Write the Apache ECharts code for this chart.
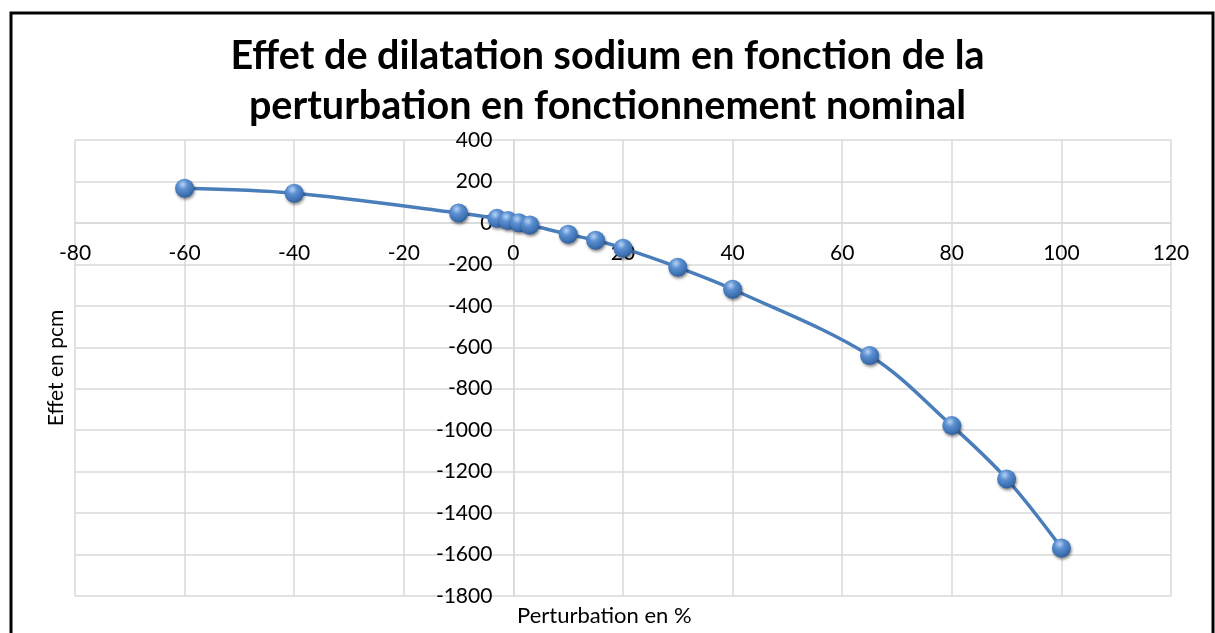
<!DOCTYPE html>
<html>
<head>
<meta charset="utf-8">
<script src="https://cdn.jsdelivr.net/npm/echarts@6/dist/echarts.min.js"></script>
<style>
html,body{margin:0;padding:0;background:#fff;}
#chart{width:1215px;height:633px;}
</style>
</head>
<body>
<div id="chart"></div>
<script>
// Data
var titleText = "Effet de dilatation sodium en fonction de la\nperturbation en fonctionnement nominal";
var xAxisName = "Perturbation en %";
var yAxisName = "Effet en pcm";
var perturbation = [-60, -40, -10, -3, -1, 1, 3, 10, 15, 20, 30, 40, 65, 80, 90, 100];
var effet = [167, 143, 48, 22, 12, 1, -10, -55, -84, -122, -214, -320, -640, -978, -1235, -1568];
var xRange = [-80, 120, 20];
var yRange = [-1800, 400, 200];

var points = perturbation.map(function (x, i) { return [x, effet[i]]; });
var font = "Lato, 'Liberation Sans', sans-serif";

var W = 1215, H = 633;
var gridBox = {left: 75, right: 44, top: 140, bottom: 37};
var plotW = W - gridBox.left - gridBox.right;
var plotH = H - gridBox.top - gridBox.bottom;
// axes cross at zero, as in the original
var xAxisOffset = -plotH * (0 - yRange[0]) / (yRange[1] - yRange[0]);
var yAxisOffset = -plotW * (0 - xRange[0]) / (xRange[1] - xRange[0]);

var chart = echarts.init(document.getElementById('chart'), null, {renderer: 'canvas'});
chart.setOption({
  animation: false,
  backgroundColor: '#ffffff',
  title: {
    text: titleText,
    left: 'center',
    top: 26,
    textStyle: {fontFamily: font, fontWeight: 'bold', fontSize: 39.5, lineHeight: 50, color: '#000'}
  },
  grid: {left: gridBox.left, right: gridBox.right, top: gridBox.top, bottom: gridBox.bottom, containLabel: false},
  xAxis: {
    type: 'value', min: xRange[0], max: xRange[1], interval: xRange[2],
    position: 'bottom', offset: xAxisOffset,
    axisLine: {show: true, onZero: false, lineStyle: {color: '#d9d9d9', width: 1.5}},
    axisTick: {show: false},
    axisLabel: {color: '#000', fontFamily: font, fontSize: 21, margin: 20, showMinLabel: true, showMaxLabel: true,
      formatter: function (v) { return String(v); }},
    splitLine: {show: true, lineStyle: {color: '#d9d9d9', width: 1.5}}
  },
  yAxis: {
    type: 'value', min: yRange[0], max: yRange[1], interval: yRange[2],
    position: 'left', offset: yAxisOffset,
    axisLine: {show: true, onZero: false, lineStyle: {color: '#d9d9d9', width: 1.5}},
    axisTick: {show: false},
    axisLabel: {color: '#000', fontFamily: font, fontSize: 21, margin: 21, showMinLabel: true, showMaxLabel: true,
      formatter: function (v) { return String(v); }},
    splitLine: {show: true, lineStyle: {color: '#d9d9d9', width: 1.5}}
  },
  graphic: [
    {type: 'rect', shape: {x: 11, y: 13, width: 1202, height: 640}, style: {fill: 'none', stroke: '#000', lineWidth: 3}, z: 100},
    {type: 'text', left: 517, top: 605, style: {text: xAxisName, fontFamily: font, fontSize: 22, fill: '#000'}},
    {type: 'text', x: 56, y: 368, rotation: Math.PI / 2, style: {text: yAxisName, fontFamily: font, fontSize: 21, fill: '#000', align: 'center', verticalAlign: 'middle'}}
  ],
  series: [{
    type: 'line',
    data: points,
    smooth: 0.35,
    lineStyle: {color: '#4a7ebb', width: 3.5},
    symbol: 'circle',
    symbolSize: 19,
    itemStyle: {
      color: {
        type: 'radial', x: 0.4, y: 0.3, r: 0.75,
        colorStops: [
          {offset: 0, color: '#b5d3f5'},
          {offset: 0.35, color: '#5b8fd0'},
          {offset: 0.8, color: '#3b6eb0'},
          {offset: 1, color: '#2a5590'}
        ]
      },
      borderWidth: 0,
      shadowBlur: 3,
      shadowOffsetX: 1,
      shadowOffsetY: 2,
      shadowColor: 'rgba(0,0,0,0.45)'
    },
    z: 3
  }]
});
</script>
</body>
</html>
